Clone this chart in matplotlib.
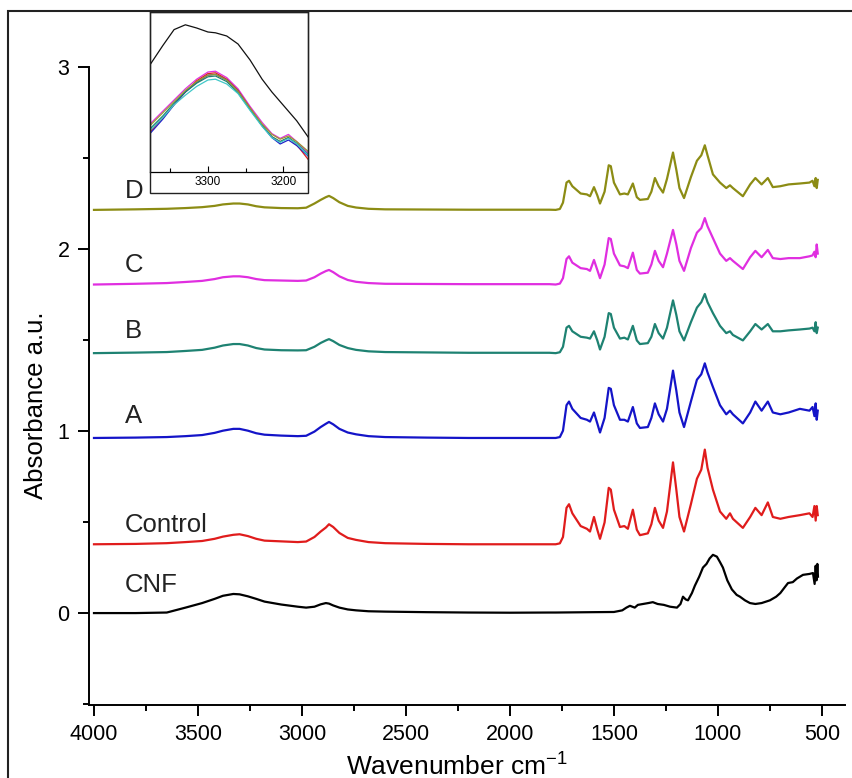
import numpy as np
import matplotlib
matplotlib.use("Agg")
import matplotlib.pyplot as plt
from matplotlib.patches import Rectangle
from matplotlib.ticker import MultipleLocator

plt.rcParams['font.family'] = ['Liberation Sans', 'DejaVu Sans']
plt.rcParams['mathtext.fontset'] = 'custom'
plt.rcParams['mathtext.rm'] = 'Liberation Sans'

# samples, stacking offset of each trace (a.u.) and colours
names = ['CNF', 'Control', 'A', 'B', 'C', 'D']
offsets = [0.0, 0.378, 0.962, 1.428, 1.805, 2.215]
colors = ['#000000', '#e01c1c', '#1414c8', '#1e8272', '#e02ee0', '#8c8c14']
label_y = [0.154, 0.483, 1.08, 1.55, 1.914, 2.32]

# 4000-1800 cm-1, shared grid
wn_hi = [4000, 3800, 3650, 3560, 3480, 3420, 3380, 3330, 3300, 3260, 3220, 3180, 3100, 3020, 2980,
         2940, 2910, 2885, 2870, 2850, 2820, 2780, 2740, 2680, 2600, 2400, 2200, 2000, 1810]
hi_cnf = [0.0, 0.0, 0.003, 0.03, 0.055, 0.078, 0.095, 0.105, 0.103, 0.092, 0.078, 0.063, 0.047, 0.035, 0.03,
          0.035, 0.048, 0.055, 0.052, 0.042, 0.03, 0.02, 0.015, 0.01, 0.008, 0.005, 0.003, 0.002, 0.003]
hi_control = [0.0, 0.002, 0.006, 0.012, 0.018, 0.03, 0.042, 0.052, 0.055, 0.045, 0.03, 0.02, 0.016, 0.012, 0.015,
              0.04, 0.07, 0.092, 0.11, 0.095, 0.062, 0.035, 0.024, 0.012, 0.006, 0.002, 0.0, 0.0, 0.0]
hi_a = [0.0, 0.002, 0.005, 0.01, 0.016, 0.028, 0.04, 0.05, 0.05, 0.04, 0.026, 0.018, 0.013, 0.01, 0.012,
        0.035, 0.06, 0.078, 0.088, 0.075, 0.05, 0.03, 0.02, 0.01, 0.005, 0.002, 0.0, 0.0, 0.0]
hi_b = [0.0, 0.003, 0.006, 0.012, 0.018, 0.03, 0.042, 0.05, 0.05, 0.042, 0.028, 0.02, 0.016, 0.015, 0.016,
        0.035, 0.056, 0.07, 0.077, 0.066, 0.045, 0.028, 0.018, 0.01, 0.006, 0.004, 0.002, 0.002, 0.002]
hi_c = [0.0, 0.004, 0.008, 0.014, 0.02, 0.03, 0.04, 0.045, 0.045, 0.04, 0.03, 0.024, 0.022, 0.02, 0.022,
        0.04, 0.06, 0.074, 0.08, 0.068, 0.045, 0.025, 0.015, 0.008, 0.004, 0.003, 0.002, 0.002, 0.002]
hi_d = [0.0, 0.003, 0.006, 0.01, 0.015, 0.022, 0.03, 0.035, 0.035, 0.03, 0.02, 0.014, 0.01, 0.009, 0.012,
        0.035, 0.055, 0.07, 0.077, 0.065, 0.042, 0.022, 0.013, 0.006, 0.003, 0.002, 0.001, 0.001, 0.001]

# fingerprint region of the treated samples
wn_fp = [1780, 1760, 1745, 1728, 1716, 1700, 1660, 1630, 1615, 1596, 1580, 1567, 1545, 1525, 1515,
         1500, 1471, 1450, 1433, 1409, 1390, 1375, 1337, 1320, 1303, 1285, 1264, 1245, 1216, 1200,
         1185, 1163, 1130, 1101, 1080, 1063, 1050, 1024, 990, 960, 942, 928, 880, 845, 820,
         790, 760, 736, 700, 660, 606, 560, 545, 536, 530, 525, 520]
fp_control = [0.0, 0.005, 0.04, 0.2, 0.22, 0.17, 0.10, 0.085, 0.07, 0.15, 0.08, 0.03, 0.12, 0.31, 0.30,
              0.19, 0.095, 0.1, 0.085, 0.19, 0.08, 0.05, 0.06, 0.11, 0.20, 0.13, 0.09, 0.18, 0.45, 0.30,
              0.15, 0.07, 0.22, 0.36, 0.41, 0.52, 0.42, 0.30, 0.18, 0.14, 0.17, 0.14, 0.09, 0.15, 0.20,
              0.16, 0.23, 0.15, 0.14, 0.15, 0.16, 0.17, 0.15, 0.21, 0.13, 0.21, 0.16]
fp_a = [0.0, 0.005, 0.04, 0.18, 0.20, 0.16, 0.11, 0.10, 0.09, 0.14, 0.08, 0.03, 0.11, 0.275, 0.27,
        0.18, 0.10, 0.10, 0.09, 0.17, 0.08, 0.055, 0.06, 0.11, 0.19, 0.13, 0.09, 0.16, 0.37, 0.26,
        0.14, 0.06, 0.20, 0.32, 0.35, 0.41, 0.36, 0.28, 0.18, 0.13, 0.15, 0.13, 0.08, 0.14, 0.20,
        0.15, 0.20, 0.14, 0.13, 0.14, 0.16, 0.15, 0.17, 0.12, 0.19, 0.10, 0.15]
fp_b = [0.0, 0.005, 0.035, 0.14, 0.15, 0.12, 0.09, 0.085, 0.08, 0.12, 0.07, 0.02, 0.09, 0.22, 0.215,
        0.14, 0.08, 0.085, 0.075, 0.15, 0.07, 0.05, 0.055, 0.09, 0.16, 0.11, 0.08, 0.14, 0.29, 0.21,
        0.12, 0.07, 0.17, 0.25, 0.28, 0.325, 0.28, 0.22, 0.15, 0.11, 0.12, 0.10, 0.07, 0.12, 0.16,
        0.13, 0.16, 0.12, 0.12, 0.125, 0.13, 0.135, 0.14, 0.12, 0.17, 0.11, 0.14]
fp_c = [0.0, 0.005, 0.035, 0.14, 0.155, 0.12, 0.09, 0.085, 0.075, 0.135, 0.08, 0.035, 0.11, 0.255, 0.25,
        0.17, 0.105, 0.10, 0.09, 0.175, 0.08, 0.06, 0.065, 0.11, 0.185, 0.13, 0.095, 0.17, 0.30, 0.22,
        0.13, 0.075, 0.20, 0.285, 0.31, 0.365, 0.32, 0.255, 0.17, 0.13, 0.145, 0.13, 0.085, 0.15, 0.185,
        0.15, 0.19, 0.145, 0.14, 0.145, 0.145, 0.155, 0.16, 0.18, 0.15, 0.22, 0.17]
fp_d = [0.0, 0.005, 0.04, 0.15, 0.16, 0.13, 0.09, 0.085, 0.075, 0.125, 0.08, 0.035, 0.10, 0.245, 0.24,
        0.15, 0.085, 0.09, 0.085, 0.145, 0.07, 0.055, 0.06, 0.10, 0.175, 0.13, 0.095, 0.17, 0.315, 0.22,
        0.12, 0.065, 0.18, 0.27, 0.30, 0.355, 0.30, 0.195, 0.15, 0.12, 0.135, 0.12, 0.075, 0.14, 0.175,
        0.14, 0.175, 0.125, 0.13, 0.14, 0.145, 0.15, 0.16, 0.13, 0.175, 0.12, 0.165]

# CNF fingerprint has its own bands
wn_cnf_fp = [1780, 1600, 1500, 1460, 1440, 1423, 1400, 1385, 1360, 1335, 1313, 1290, 1260, 1230, 1197,
             1180, 1168, 1155, 1144, 1125, 1111, 1090, 1072, 1055, 1040, 1024, 1005, 990, 976, 955,
             933, 910, 894, 870, 846, 820, 790, 750, 720, 700, 680, 663, 640, 620, 591,
             560, 543, 535, 530, 526, 522, 519]
fp_cnf = [0.003, 0.005, 0.006, 0.015, 0.03, 0.04, 0.03, 0.045, 0.05, 0.055, 0.06, 0.05, 0.045, 0.035, 0.03,
          0.05, 0.09, 0.075, 0.07, 0.11, 0.15, 0.2, 0.25, 0.27, 0.30, 0.32, 0.31, 0.28, 0.25, 0.18,
          0.13, 0.10, 0.09, 0.07, 0.055, 0.05, 0.055, 0.07, 0.09, 0.11, 0.14, 0.165, 0.17, 0.19, 0.21,
          0.215, 0.22, 0.16, 0.26, 0.18, 0.27, 0.2]

hi_all = [hi_cnf, hi_control, hi_a, hi_b, hi_c, hi_d]
fp_all = [fp_cnf, fp_control, fp_a, fp_b, fp_c, fp_d]
wn_fp_all = [wn_cnf_fp, wn_fp, wn_fp, wn_fp, wn_fp, wn_fp]

# inset: O-H band zoom (relative heights)
wn_in = [3377, 3360, 3345, 3330, 3315, 3300, 3290, 3275, 3260, 3244, 3228, 3215, 3204, 3193, 3182, 3167]
in_black = [0.67, 0.79, 0.89, 0.92, 0.90, 0.875, 0.87, 0.85, 0.80, 0.70, 0.58, 0.50, 0.44, 0.38, 0.32, 0.22]
in_mag = [0.30, 0.38, 0.45, 0.52, 0.58, 0.625, 0.63, 0.59, 0.52, 0.41, 0.31, 0.24, 0.21, 0.235, 0.19, 0.12]
in_red = [0.25, 0.34, 0.42, 0.50, 0.57, 0.615, 0.62, 0.58, 0.51, 0.40, 0.29, 0.22, 0.19, 0.215, 0.17, 0.08]
in_blue = [0.24, 0.33, 0.42, 0.50, 0.56, 0.605, 0.61, 0.575, 0.505, 0.395, 0.29, 0.215, 0.175, 0.20, 0.165, 0.10]
in_teal = [0.27, 0.35, 0.43, 0.50, 0.555, 0.595, 0.60, 0.565, 0.495, 0.39, 0.29, 0.22, 0.19, 0.215, 0.18, 0.11]
in_olive = [0.29, 0.37, 0.44, 0.51, 0.565, 0.605, 0.61, 0.575, 0.505, 0.40, 0.30, 0.235, 0.205, 0.225, 0.19, 0.13]
in_cyan = [0.26, 0.34, 0.42, 0.48, 0.535, 0.575, 0.58, 0.55, 0.49, 0.385, 0.285, 0.215, 0.185, 0.21, 0.175, 0.105]
in_series = [in_mag, in_red, in_blue, in_teal, in_olive, in_cyan]
in_colors = ['#e030e0', '#e02020', '#2020c8', '#1e8272', '#9a9a30', '#40c8c8']

W, H = 853, 778
fig = plt.figure(figsize=(W / 100, H / 100), dpi=100)

# outer frame (only left/top edges fall inside the picture)
fig.add_artist(Rectangle((8 / W, -0.1), 1.2, 1 - 11 / H + 0.1, transform=fig.transFigure,
                         fill=False, lw=1.5, ec='#222222'))

ax = fig.add_axes([89 / W, 1 - 705 / H, (845 - 89) / W, (705 - 67) / H])
for name, off, col, hi, wf, fp, ly in zip(names, offsets, colors, hi_all, wn_fp_all, fp_all, label_y):
    x = np.array(wn_hi + wf)
    y = np.array(hi + fp) + off
    ax.plot(x, y, color=col, lw=1.6)
    ax.text(3851, ly, name, fontsize=18.5, color='#222222', ha='left', va='center')

ax.set_xlim(4024, 389)
ax.set_ylim(-0.505, 3.0)
ax.xaxis.set_major_locator(MultipleLocator(500))
ax.xaxis.set_minor_locator(MultipleLocator(250))
ax.yaxis.set_major_locator(MultipleLocator(1))
ax.yaxis.set_minor_locator(MultipleLocator(0.5))
for s in ['top', 'right']:
    ax.spines[s].set_visible(False)
for s in ['left', 'bottom']:
    ax.spines[s].set_linewidth(1.4)
ax.tick_params(which='major', direction='out', length=8, width=1.4, labelsize=15.5, pad=6)
ax.tick_params(which='minor', direction='out', length=4.3, width=1.4)
ax.set_xlabel('Wavenumber cm$^{-1}$', fontsize=19)
ax.set_ylabel('Absorbance a.u.', fontsize=18.5)
ax.xaxis.set_label_coords(0.487, -0.073)
ax.yaxis.set_label_coords(-0.054, 0.47)

# inset
ins = fig.add_axes([150 / W, 1 - 172 / H, 158 / W, (172 - 12) / H])
ins.plot(wn_in, in_black, color='#111111', lw=0.9)
for ys, c in zip(in_series, in_colors):
    ins.plot(wn_in, ys, color=c, lw=0.9)
ins.set_xlim(3377, 3167)
ins.set_ylim(0, 1)
ins.set_yticks([])
ins.xaxis.set_major_locator(MultipleLocator(100))
ins.xaxis.set_minor_locator(MultipleLocator(50))
ins.tick_params(which='both', direction='in', labelsize=8.5, pad=3)
ins.tick_params(which='major', length=4, width=0.8)
ins.tick_params(which='minor', length=3, width=0.8)
for s in ins.spines.values():
    s.set_linewidth(0.9)
fig.add_artist(Rectangle((150 / W, 1 - 193 / H), 158 / W, (193 - 12) / H, transform=fig.transFigure,
                         fill=False, lw=1.0, ec='#222222'))

fig.savefig('out.png', dpi=100)
